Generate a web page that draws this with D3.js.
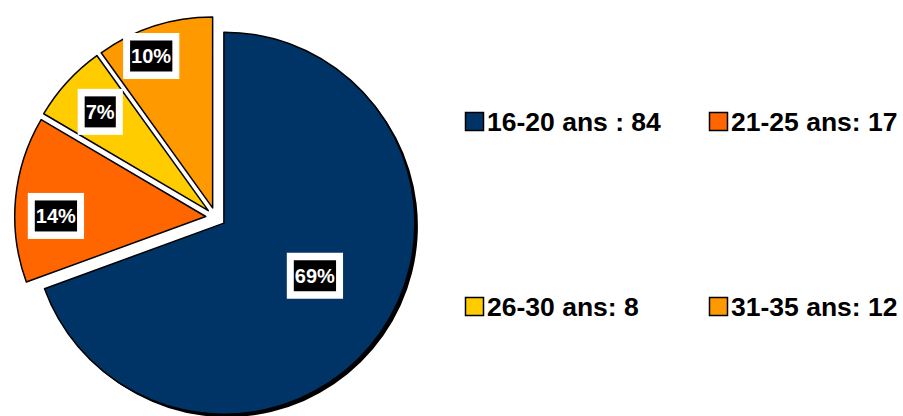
<!DOCTYPE html>
<html>
<head>
<meta charset="utf-8">
<script src="https://cdn.jsdelivr.net/npm/d3@7/dist/d3.min.js"></script>
<style>
  body { margin: 0; background: #fff; }
  svg { display: block; font-family: "Liberation Sans", Arial, sans-serif; }
</style>
</head>
<body>
<div id="chart-area"></div>
<script>
const width = 903, height = 416;

// Data
const categories = ["16-20 ans", "21-25 ans", "26-30 ans", "31-35 ans"];
const counts = [84, 17, 8, 12];
const legendLabels = ["16-20 ans : 84", "21-25 ans: 17", "26-30 ans: 8", "31-35 ans: 12"];
const colors = ["#003366", "#FF6600", "#FFCC00", "#FF9900"];

const data = categories.map((c, i) => ({name: c, value: counts[i], color: colors[i], legend: legendLabels[i]}));
const total = d3.sum(counts);

// Layout
const cx = 215.7, cy = 217.4, radius = 191, explode = 10;
const labelFrac = [0.55, 0.785, 0.767, 0.858];
const labelShift = [-4.9, -5, 0, -4.2]; // degrees

const svg = d3.select("#chart-area").append("svg")
    .attr("width", width)
    .attr("height", height);

const pie = d3.pie().sort(null).value(d => d.value);
const arcs = pie(data);
const arc = d3.arc().innerRadius(0).outerRadius(radius);

const mid = d => (d.startAngle + d.endAngle) / 2;
const polar = (a, r) => [Math.sin(a) * r, -Math.cos(a) * r];

const g = svg.append("g").attr("transform", `translate(${cx},${cy})`);

// shadow under the big slice
g.append("path")
    .attr("d", arc(arcs[0]))
    .attr("fill", "#000")
    .attr("transform", () => {
        const [dx, dy] = polar(mid(arcs[0]), explode);
        return `translate(${dx + 3},${dy + 3})`;
    });

const slices = g.selectAll("g.slice")
    .data(arcs)
    .enter().append("g")
    .attr("class", "slice")
    .attr("transform", d => {
        const [dx, dy] = polar(mid(d), explode);
        return `translate(${dx},${dy})`;
    });

slices.append("path")
    .attr("d", arc)
    .attr("fill", d => d.data.color)
    .attr("stroke", "#000")
    .attr("stroke-width", 1.5)
    .attr("stroke-linejoin", "round");

// percentage labels
slices.each(function(d, i) {
    const a = mid(d) + labelShift[i] * Math.PI / 180;
    const [lx, ly] = polar(a, radius * labelFrac[i]);
    const lg = d3.select(this).append("g").attr("transform", `translate(${lx},${ly})`);
    const pct = Math.round(d.data.value / total * 100) + "%";
    const outer = lg.append("rect").attr("fill", "#fff");
    const inner = lg.append("rect").attr("fill", "#000");
    const t = lg.append("text")
        .attr("text-anchor", "middle")
        .attr("dy", "0.36em")
        .attr("fill", "#fff")
        .attr("font-weight", "bold")
        .attr("font-size", 20)
        .text(pct);
    const bb = t.node().getBBox();
    inner.attr("x", bb.x - 1).attr("y", -15.5).attr("width", bb.width + 2).attr("height", 31);
    outer.attr("x", bb.x - 8).attr("y", -23).attr("width", bb.width + 16).attr("height", 46);
});

// legend
const legendPos = [[465, 112], [709, 112], [465, 297], [709, 297]];
const legend = svg.append("g").selectAll("g")
    .data(data)
    .enter().append("g")
    .attr("transform", (d, i) => `translate(${legendPos[i][0]},${legendPos[i][1]})`);

legend.append("rect")
    .attr("x", 0.5).attr("y", 0.5)
    .attr("width", 18).attr("height", 18)
    .attr("fill", d => d.color)
    .attr("stroke", "#000")
    .attr("stroke-width", 1.5);

legend.append("text")
    .attr("x", 22)
    .attr("y", 18.5)
    .attr("font-weight", "bold")
    .attr("font-size", 26.5)
    .attr("fill", "#000")
    .text(d => d.legend);
</script>
</body>
</html>
